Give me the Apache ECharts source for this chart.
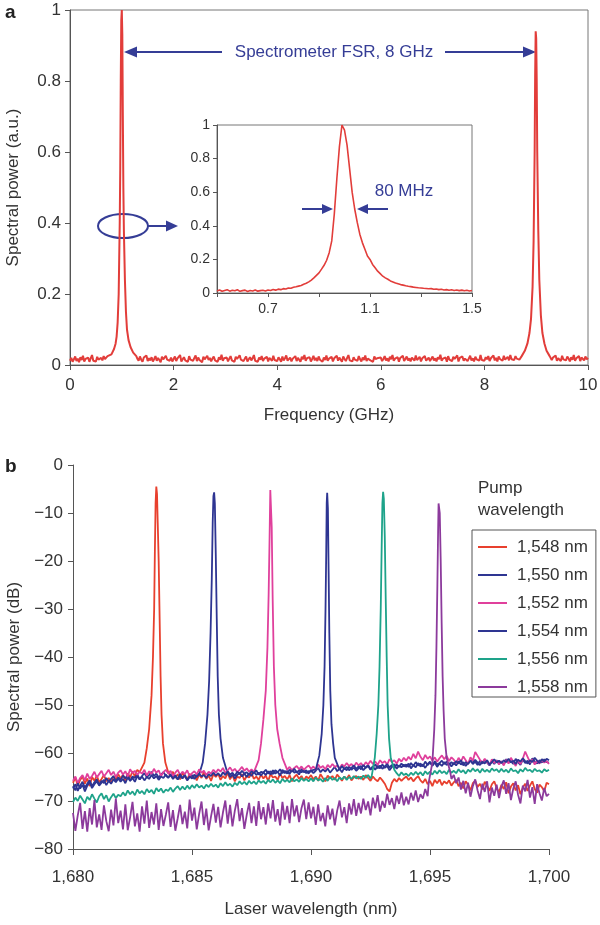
<!DOCTYPE html>
<html><head><meta charset="utf-8">
<script src="https://cdn.jsdelivr.net/npm/echarts@6/dist/echarts.min.js"></script>
<style>html,body{margin:0;padding:0;background:#fff}#c{width:600px;height:925px}</style>
</head><body><div id="c"></div>
<script>
// ---------- Panel a: main spectrum (GHz, 0..10, step 0.025) ----------
const freqPerGHz = 40;
const mainBaseline = [
0.012,0.020,0.009,0.016,0.024,0.011,0.018,0.008,0.022,0.014,0.026,0.010,0.017,0.013,0.021,0.009,0.019,0.028,0.012,0.016,0.010,0.023,0.015,0.011,0.020,0.013,0.025,0.017,0.020,0.025,0.03,0.03,0.03,0.03,0.03,0.03,0.03,0.03,0.03,0.03,
0.03,0.03,0.03,0.03,0.03,0.03,0.03,0.03,0.03,0.03,0.03,0.03,0.018,0.012,0.024,0.015,0.009,0.021,0.016,0.027,0.011,0.019,0.013,0.022,0.010,0.017,0.025,0.012,0.020,0.014,0.008,0.023,0.016,0.011,0.026,0.015,0.019,0.012,0.021,0.010,
0.017,0.024,0.011,0.019,0.014,0.028,0.010,0.016,0.022,0.013,0.018,0.009,0.025,0.015,0.020,0.012,0.017,0.027,0.011,0.021,0.014,0.019,0.008,0.023,0.016,0.012,0.026,0.014,0.020,0.010,0.018,0.024,0.013,0.017,0.009,0.022,0.015,0.029,0.012,0.019,
0.014,0.021,0.010,0.018,0.025,0.013,0.016,0.009,0.023,0.017,0.012,0.027,0.015,0.020,0.011,0.018,0.024,0.010,0.016,0.022,0.013,0.019,0.028,0.012,0.017,0.009,0.021,0.015,0.025,0.011,0.018,0.014,0.023,0.010,0.020,0.016,0.012,0.026,0.014,0.019,
0.011,0.022,0.016,0.009,0.024,0.013,0.019,0.027,0.012,0.017,0.021,0.010,0.018,0.014,0.025,0.011,0.020,0.015,0.009,0.023,0.016,0.028,0.012,0.019,0.014,0.022,0.010,0.017,0.026,0.013,0.020,0.011,0.024,0.015,0.018,0.009,0.021,0.014,0.027,0.012,
0.018,0.013,0.023,0.010,0.019,0.016,0.026,0.012,0.021,0.015,0.009,0.024,0.017,0.011,0.020,0.028,0.013,0.018,0.010,0.022,0.015,0.019,0.012,0.025,0.016,0.010,0.021,0.014,0.027,0.011,0.018,0.023,0.013,0.016,0.009,0.024,0.017,0.012,0.020,0.015,
0.021,0.011,0.017,0.025,0.013,0.019,0.010,0.023,0.016,0.028,0.012,0.018,0.014,0.022,0.009,0.020,0.015,0.026,0.011,0.017,0.024,0.013,0.019,0.010,0.021,0.016,0.012,0.027,0.014,0.018,0.023,0.010,0.019,0.015,0.025,0.012,0.017,0.021,0.011,0.016,
0.024,0.013,0.019,0.010,0.022,0.016,0.029,0.012,0.018,0.014,0.021,0.009,0.025,0.015,0.019,0.011,0.023,0.017,0.013,0.027,0.010,0.020,0.015,0.024,0.012,0.018,0.022,0.011,0.016,0.026,0.013,0.019,0.010,0.023,0.016,0.021,0.012,0.028,0.014,0.018,
0.012,0.022,0.016,0.025,0.011,0.019,0.014,0.027,0.013,0.020,0.010,0.024,0.017,0.021,0.012,0.026,0.015,0.019,0.023,0.013,0.028,0.016,0.020,0.014,0.025,0.018,0.022,0.015,0.020,0.02,0.02,0.02,0.02,0.02,0.02,0.02,0.02,0.02,0.02,0.02,
0.02,0.02,0.02,0.02,0.02,0.02,0.02,0.02,0.02,0.02,0.02,0.024,0.014,0.021,0.017,0.027,0.012,0.019,0.023,0.011,0.026,0.016,0.020,0.013,0.024,0.018,0.010,0.022,0.015,0.028,0.012,0.019,0.014,0.025,0.011,0.021,0.017,0.013,0.024,0.016,
0.020];
const mainPeak1 = [[0.75,0.02],[0.8,0.03],[0.85,0.045],[0.88,0.06],[0.9,0.08],[0.92,0.12],[0.94,0.2],[0.96,0.4],[0.97,0.55],[0.98,0.8],[0.99,0.97],[1.0,1.0],[1.01,0.93],[1.02,0.7],[1.03,0.5],[1.04,0.38],[1.06,0.24],[1.08,0.15],[1.1,0.1],[1.13,0.07],[1.17,0.05],[1.22,0.035],[1.28,0.025]];
const mainPeak2 = [[8.72,0.025],[8.78,0.04],[8.83,0.06],[8.87,0.09],[8.9,0.13],[8.93,0.22],[8.95,0.35],[8.97,0.6],[8.98,0.82],[8.99,0.94],[9.0,0.92],[9.01,0.8],[9.02,0.6],[9.04,0.38],[9.06,0.24],[9.09,0.14],[9.12,0.09],[9.16,0.06],[9.2,0.04],[9.26,0.025]];

// ---------- Panel a inset (GHz 0.50..1.50 step 0.01) ----------
const insetValues = [
0.012,0.018,0.010,0.015,0.020,0.011,0.016,0.013,0.019,0.010,
0.014,0.017,0.009,0.015,0.012,0.018,0.011,0.014,0.016,0.012,
0.018,0.015,0.021,0.017,0.023,0.020,0.026,0.024,0.030,0.028,
0.034,0.037,0.041,0.045,0.052,0.058,0.066,0.077,0.090,0.105,
0.120,0.142,0.165,0.195,0.240,0.310,0.470,0.680,0.870,1.000,
0.970,0.880,0.740,0.600,0.500,0.420,0.350,0.300,0.260,0.220,
0.200,0.170,0.150,0.130,0.115,0.100,0.090,0.082,0.072,0.066,
0.060,0.055,0.050,0.047,0.043,0.040,0.038,0.035,0.033,0.031,
0.030,0.028,0.027,0.025,0.026,0.022,0.024,0.020,0.022,0.018,
0.020,0.016,0.019,0.015,0.018,0.014,0.017,0.013,0.016,0.012,
0.015];
const insetTickLabels = ['0.7','1.1','1.5'];

// ---------- Panel b (nm 1680.0..1700.0 step 0.1) ----------
const wlStartTenths = 16800;
const pumpNames = ['1,548 nm','1,550 nm','1,552 nm','1,554 nm','1,556 nm','1,558 nm'];
const pumpColors = ['#e8402e','#2e3592','#e0409c','#2e3592','#1ea38a','#8c3a9c'];
const base1548 = [
-66.2,-65.1,-66.8,-65.6,-64.9,-66.4,-65.3,-66.9,-65.0,-65.8,-64.7,-66.1,-65.4,-64.6,-65.9,-65.2,-66.3,-64.8,-65.5,-64.4,
-65.3,-64.5,-65.8,-64.2,-65.1,-63.8,-64.9,-63.5,-64.6,-63.3,-64.2,-63.9,-63,-62,-64,-64,-64,-64,-64,-64,
-64.2,-64.8,-63.9,-65.2,-64.4,-65.5,-64.1,-64.9,-65.6,-64.3,-65.1,-64.6,-65.7,-64.5,-65.2,-64.0,-65.4,-64.7,-65.8,-64.4,
-65.0,-64.3,-65.6,-64.8,-65.3,-64.1,-65.5,-64.6,-65.9,-64.9,-65.2,-64.4,-65.7,-64.8,-65.1,-64.2,-65.4,-64.9,-65.6,-64.5,
-65.3,-64.7,-65.8,-64.4,-65.1,-64.9,-65.6,-64.3,-65.2,-64.8,-65.5,-64.6,-65.9,-65.0,-64.5,-65.4,-64.8,-65.7,-64.9,-65.3,
-64.6,-65.5,-64.9,-65.8,-64.4,-65.2,-65.9,-64.7,-65.3,-64.8,-65.6,-64.5,-65.1,-65.8,-64.9,-65.4,-64.6,-65.7,-65.1,-64.8,
-65.4,-64.9,-65.6,-64.6,-65.2,-65.8,-64.9,-65.5,-65.9,-65.1,-65.7,-66.4,-67.5,-68.0,-66.2,-65.4,-66.0,-65.2,-65.8,-65.3,
-64.9,-65.6,-65.1,-65.9,-65.3,-64.8,-65.7,-66.2,-65.4,-66.5,-65.8,-66.9,-65.6,-66.3,-65.5,-66.7,-65.9,-66.4,-65.7,-66.8,
-66.1,-65.6,-66.9,-66.2,-67.4,-65.9,-66.6,-67.8,-66.3,-65.8,-67.1,-66.4,-67.6,-66.0,-66.8,-67.9,-66.5,-65.9,-67.3,-68.2,
-66.6,-67.5,-66.1,-68.4,-67.0,-66.3,-67.8,-66.7,-68.6,-67.2,-66.4,-67.9,-66.8,-65.9,-67.5,-68.3,-66.6,-67.1,-68.0,-66.2,
-66.5];
const base1550 = [
-67.4,-66.5,-67.9,-66.8,-66.0,-67.2,-66.4,-65.7,-66.9,-66.1,-65.5,-66.6,-65.8,-66.3,-65.2,-66.0,-65.4,-64.8,-65.9,-65.1,
-65.6,-64.7,-65.3,-64.5,-65.8,-64.9,-65.2,-64.4,-65.5,-64.8,-64.2,-65.0,-64.6,-63.9,-64.8,-64.3,-65.1,-64.5,-64.0,-64.7,
-65.2,-64.4,-65.0,-64.6,-65.5,-64.8,-65.3,-64.5,-65.7,-65.0,-64.6,-65.4,-64.8,-65.6,-64.9,-65.3,-64.7,-65.5,-64.9,-65.2,
-65.0,-64.6,-65.1,-64.7,-64.9,-64.4,-65.2,-64.5,-65.3,-64.6,-64.1,-64.9,-64.3,-65.0,-64.2,-64.8,-63.9,-64.6,-64.1,-64.7,
-64.0,-64.6,-63.8,-64.5,-63.6,-64.3,-63.9,-64.7,-63.5,-64.2,-63.7,-64.4,-63.4,-64.1,-63.8,-64.5,-63.3,-64.0,-63.6,-64.3,
-63.5,-64.2,-63.7,-63.1,-64.0,-63.4,-63.9,-63.2,-64.1,-63.5,-62.9,-63.8,-63.3,-64.0,-63.1,-63.6,-62.8,-63.5,-63.0,-63.7,
-63.2,-62.7,-63.6,-63.0,-62.5,-63.4,-62.8,-63.5,-62.6,-63.2,-62.4,-63.1,-62.7,-63.6,-62.9,-62.3,-63.3,-62.6,-63.0,-62.4,
-62.9,-62.2,-63.2,-62.5,-63.0,-62.1,-62.8,-62.4,-63.1,-62.3,-61.8,-62.6,-62.0,-62.9,-62.2,-62.7,-61.9,-62.5,-62.1,-62.8,
-62.0,-62.6,-61.7,-62.4,-61.9,-62.7,-62.1,-61.5,-62.3,-61.8,-62.5,-61.6,-62.2,-61.4,-62.0,-62.6,-61.7,-62.3,-61.5,-62.1,
-61.8,-62.4,-61.3,-62.0,-61.6,-62.3,-61.2,-61.9,-62.5,-61.4,-62.1,-61.6,-62.4,-61.1,-61.8,-62.2,-61.5,-62.0,-61.3,-61.9,
-62.0];
const base1552 = [
-65.8,-64.9,-66.3,-65.2,-64.6,-65.7,-64.3,-65.4,-64.8,-63.9,-65.1,-64.4,-63.7,-64.9,-64.2,-63.5,-64.6,-63.9,-65.0,-64.1,
-63.6,-64.5,-63.8,-64.9,-63.4,-64.2,-63.7,-64.6,-63.9,-64.3,-63.5,-64.7,-63.8,-64.4,-63.3,-64.1,-63.6,-64.8,-64.0,-63.5,
-64.3,-63.7,-64.8,-64.1,-63.5,-64.6,-63.9,-64.4,-63.6,-64.9,-64.2,-63.8,-64.5,-63.4,-64.1,-63.7,-64.6,-63.9,-64.3,-63.5,
-64.1,-63.4,-63.9,-63.1,-64.2,-63.6,-63.0,-63.8,-63.3,-64.0,-63.5,-62.9,-63.7,-63.2,-63.9,-63.4,-64,-64,-64,-64,
-63,-63,-63,-63,-63,-63,-63,-63,-63,-63,-63.5,-62.9,-63.6,-63.1,-62.7,-63.4,-62.8,-63.5,-63.0,-62.6,
-63.3,-62.8,-63.5,-62.4,-63.1,-62.7,-63.4,-62.5,-63.0,-62.3,-62.9,-62.6,-63.2,-62.4,-62.8,-62.1,-62.7,-62.3,-62.9,-62.0,
-62.6,-62.1,-62.8,-61.9,-62.4,-61.6,-62.3,-61.8,-62.5,-61.5,-62.1,-61.7,-62.4,-61.3,-61.9,-61.5,-62.2,-61.2,-61.8,-61.0,
-61.6,-60.8,-61.4,-60.2,-61.1,-59.7,-60.8,-61.5,-60.4,-61.2,-60.7,-61.6,-60.9,-61.8,-61.1,-60.5,-61.3,-60.6,-61.7,-60.9,
-61.4,-62.1,-61.0,-61.8,-60.7,-61.5,-62.3,-60.9,-61.6,-59.8,-60.6,-61.4,-62.0,-61.2,-61.9,-62.5,-61.3,-62.1,-61.6,-62.4,
-61.7,-62.6,-61.4,-62.2,-61.0,-61.8,-62.7,-61.5,-62.3,-61.2,-59.7,-60.8,-61.9,-61.3,-62.4,-61.6,-62.2,-61.4,-62.0,-61.7,
-62.3];
const base1554 = [
-66.9,-67.8,-66.3,-67.4,-66.6,-68.0,-66.8,-66.1,-67.3,-66.5,-65.9,-66.8,-66.2,-65.6,-66.7,-65.8,-66.4,-65.5,-66.1,-65.3,
-66.0,-65.4,-66.3,-65.1,-65.8,-65.2,-66.0,-64.8,-65.5,-64.9,-65.7,-65.0,-65.4,-64.6,-65.3,-64.8,-65.6,-64.9,-65.2,-64.5,
-65.1,-64.6,-65.4,-64.8,-65.5,-64.4,-65.2,-64.7,-65.6,-64.9,-65.3,-64.5,-65.0,-64.3,-64.9,-64.6,-65.2,-64.4,-64.8,-64.1,
-64.7,-64.2,-64.9,-64.0,-64.6,-63.8,-64.5,-64.1,-64.8,-63.9,-64.4,-63.7,-64.3,-64.0,-64.6,-63.8,-64.2,-63.6,-64.5,-63.9,
-64.1,-63.5,-64.3,-63.8,-64.4,-63.6,-64.0,-63.4,-64.2,-63.7,-64.3,-63.5,-63.9,-63.3,-64.1,-63.6,-64.0,-63.7,-64.2,-63.8,
-63.9,-63.5,-63.7,-63.4,-63.6,-63,-63,-63,-63,-63,-63,-63,-63.2,-62.7,-63.4,-62.9,-63.6,-63.1,-62.6,-63.3,
-62.8,-63.4,-62.5,-63.1,-62.7,-63.5,-62.9,-62.4,-63.2,-62.6,-63.3,-62.8,-62.3,-63.0,-62.5,-63.1,-62.4,-62.9,-62.2,-62.8,
-62.4,-62.9,-62.1,-62.7,-61.9,-62.6,-62.2,-62.8,-61.8,-62.5,-62.0,-62.7,-61.7,-62.4,-62.1,-61.6,-62.3,-61.8,-62.5,-61.9,
-62.4,-61.7,-62.2,-61.5,-62.6,-61.9,-62.3,-61.6,-62.1,-61.4,-62.0,-62.5,-61.8,-62.2,-61.5,-62.4,-61.9,-61.3,-62.0,-61.6,
-62.1,-61.5,-61.9,-61.2,-62.0,-61.6,-62.3,-61.4,-61.8,-61.1,-61.7,-62.2,-61.5,-61.9,-61.0,-61.6,-62.1,-61.3,-61.8,-61.2,
-61.5];
const base1556 = [
-70.2,-69.3,-70.0,-68.9,-69.7,-70.5,-69.1,-69.8,-68.6,-69.5,-70.3,-69.0,-68.4,-69.6,-68.8,-70.1,-69.2,-68.5,-69.4,-68.7,
-69.0,-68.2,-68.9,-67.8,-68.6,-68.0,-68.8,-67.6,-68.4,-67.9,-68.6,-67.5,-68.2,-67.7,-68.5,-67.3,-68.0,-67.4,-68.3,-67.6,
-67.9,-67.2,-68.1,-67.4,-66.9,-67.7,-67.0,-67.6,-66.8,-67.5,-66.7,-67.3,-66.5,-67.2,-66.8,-67.4,-66.6,-67.1,-66.4,-67.0,
-66.6,-67.2,-66.3,-66.9,-66.1,-66.8,-66.4,-67.0,-66.2,-66.7,-65.9,-66.5,-66.0,-66.6,-65.8,-66.4,-65.9,-66.5,-65.7,-66.2,
-65.8,-66.4,-65.6,-66.1,-65.5,-66.2,-65.7,-66.3,-65.4,-66.0,-65.6,-66.1,-65.3,-65.9,-65.5,-66.0,-65.2,-65.8,-65.4,-65.9,
-65.3,-65.9,-65.1,-65.7,-65.4,-66.0,-65.2,-65.8,-65.0,-65.6,-65.2,-65.9,-65.1,-65.5,-64.9,-65.6,-65.0,-65.4,-64.8,-65.3,
-64.9,-65.4,-64.7,-65.2,-64.6,-65.3,-64.8,-65,-65,-65,-65,-65,-65,-65,-65,-65,-64.2,-64.8,-64.0,-64.6,
-64.3,-64.8,-64.1,-64.6,-63.9,-64.5,-64.0,-64.7,-63.8,-64.4,-63.9,-64.5,-63.7,-64.3,-63.6,-64.2,-63.8,-64.4,-63.5,-64.1,
-63.7,-64.2,-63.4,-64.0,-63.6,-64.3,-63.5,-63.9,-63.2,-63.8,-63.4,-64.1,-63.3,-63.9,-63.5,-64.0,-63.2,-63.7,-63.4,-64.0,
-63.3,-63.9,-63.5,-64.1,-63.2,-63.8,-63.6,-64.2,-63.4,-63.9,-63.1,-63.7,-63.5,-64.0,-63.3,-63.8,-63.6,-64.1,-63.4,-63.8,
-63.5];
const base1558 = [
-72.5,-76.2,-73.0,-70.4,-75.8,-72.1,-76.4,-71.5,-74.9,-69.8,-75.5,-72.8,-76.0,-70.9,-74.2,-76.3,-71.8,-75.1,-69.5,-74.6,
-72.0,-75.9,-70.7,-76.1,-73.4,-70.2,-75.3,-72.6,-76.4,-71.1,-74.7,-69.9,-75.6,-72.3,-74.9,-70.5,-76.0,-71.7,-75.2,-72.9,
-70.3,-75.4,-71.9,-76.2,-73.6,-70.8,-74.8,-72.2,-75.7,-69.7,-74.1,-71.4,-75.9,-72.7,-70.1,-75.0,-71.6,-76.1,-73.2,-70.6,
-74.5,-71.2,-75.5,-72.4,-69.9,-74.7,-70.8,-75.3,-72.0,-69.6,-74.2,-71.5,-75.8,-72.9,-70.4,-74.6,-71.1,-75.2,-70.0,-73.8,
-71.3,-74.9,-70.5,-73.6,-69.8,-74.3,-71.7,-75.1,-70.2,-73.9,-71.0,-74.6,-69.6,-73.2,-70.9,-74.4,-71.5,-69.7,-73.8,-70.3,
-73.6,-71.2,-75.0,-70.7,-74.2,-72.5,-75.3,-70.9,-73.8,-71.6,-75.1,-72.0,-69.9,-73.4,-71.3,-74.6,-70.5,-72.8,-69.6,-73.1,
-70.4,-72.6,-69.5,-71.9,-70.1,-73.0,-69.3,-71.5,-68.8,-72.2,-70.0,-71.4,-68.5,-70.8,-69.4,-71.7,-68.9,-70.6,-68.2,-70.9,
-69.1,-70.7,-68.3,-69.9,-67.8,-70.2,-68.6,-69.5,-67.5,-69.0,-66,-66,-66,-66,-66,-66,-66,-66,-66,-65.4,
-64.6,-66.3,-65.1,-67.6,-65.8,-68.4,-66.2,-69.1,-66.9,-65.5,-67.8,-69.6,-66.4,-68.1,-65.9,-70.3,-67.2,-68.9,-66.6,-69.4,
-67.0,-65.7,-68.5,-66.3,-69.8,-67.4,-65.9,-68.7,-70.5,-66.8,-68.0,-65.6,-69.3,-67.1,-70.6,-66.5,-68.4,-69.9,-67.3,-69.0,
-68.5];
const peak1548 = [[1682.8,-64],[1683.0,-62],[1683.1,-59],[1683.2,-55],[1683.3,-48],[1683.36,-40],[1683.41,-30],[1683.44,-18],[1683.47,-8],[1683.5,-4.5],[1683.53,-6],[1683.56,-12],[1683.6,-20],[1683.64,-32],[1683.68,-44],[1683.72,-52],[1683.78,-58],[1683.88,-62],[1684.0,-64]];
const peak1550 = [[1685.3,-64.5],[1685.45,-62],[1685.55,-58],[1685.65,-52],[1685.72,-45],[1685.78,-35],[1685.83,-24],[1685.87,-12],[1685.9,-6.5],[1685.93,-5.7],[1685.96,-8],[1686.0,-19],[1686.04,-32],[1686.08,-44],[1686.13,-52],[1686.2,-57],[1686.3,-61],[1686.45,-63.5],[1686.6,-65]];
const peak1552 = [[1687.6,-64],[1687.8,-61.5],[1687.9,-58],[1688.0,-53],[1688.1,-47],[1688.17,-38],[1688.22,-27],[1688.26,-15],[1688.29,-5.2],[1688.32,-5],[1688.35,-13],[1688.39,-28],[1688.44,-42],[1688.5,-50],[1688.58,-55],[1688.68,-58],[1688.8,-61],[1689.0,-63.5]];
const peak1554 = [[1690.2,-63.5],[1690.35,-60.5],[1690.45,-56],[1690.52,-50],[1690.57,-42],[1690.61,-30],[1690.64,-18],[1690.66,-8],[1690.68,-5.8],[1690.71,-9],[1690.74,-22],[1690.77,-35],[1690.81,-47],[1690.86,-54],[1690.93,-58],[1691.0,-61],[1691.2,-63.5]];
const peak1556 = [[1692.55,-64.8],[1692.68,-61],[1692.76,-56],[1692.83,-50],[1692.88,-42],[1692.93,-30],[1692.97,-17],[1693.0,-8],[1693.03,-5.6],[1693.06,-7],[1693.1,-15],[1693.14,-28],[1693.18,-40],[1693.22,-50],[1693.28,-57],[1693.35,-61],[1693.5,-63.5]];
const peak1558 = [[1694.95,-66],[1695.1,-62],[1695.18,-55],[1695.23,-48],[1695.27,-38],[1695.31,-25],[1695.34,-14],[1695.36,-8],[1695.38,-7.6],[1695.41,-10],[1695.45,-20],[1695.49,-33],[1695.53,-44],[1695.57,-51],[1695.62,-57],[1695.7,-61],[1695.85,-64]];

// ---------- build ----------
function withPeaks(pairs, peaks) {
  let out = pairs.slice();
  peaks.forEach(pk => {
    const lo = pk[0][0], hi = pk[pk.length - 1][0];
    out = out.filter(p => p[0] < lo || p[0] > hi).concat(pk);
  });
  return out.sort((a, b) => a[0] - b[0]);
}
const mainPairs = mainBaseline.map((v, i) => [i / freqPerGHz, v]);
const mainData = withPeaks(mainPairs, [mainPeak1, mainPeak2]);
const insetData = insetValues.map((v, i) => [(50 + i) / 100, v]);
const bBases = [base1548, base1550, base1552, base1554, base1556, base1558];
const bPeaks = [peak1548, peak1550, peak1552, peak1554, peak1556, peak1558];
const bData = bBases.map((arr, k) => withPeaks(arr.map((v, i) => [(wlStartTenths + i) / 10, v]), [bPeaks[k]]));

const FF = "'Liberation Sans', Arial, sans-serif";
const TXT = '#333';
const AX = '#555';
const BLUE = '#353d96';
const axisCommon = (fs) => ({
  axisLine: { show: true, onZero: false, lineStyle: { color: AX, width: 1 } },
  axisTick: { show: true, length: 5, lineStyle: { color: AX } },
  splitLine: { show: false },
  axisLabel: { fontSize: fs, color: TXT, fontFamily: FF },
  nameTextStyle: { fontSize: 17, color: TXT, fontFamily: FF }
});
const minusFmt = v => (v < 0 ? '\u2212' + Math.abs(v) : String(v));

const chart = echarts.init(document.getElementById('c'), null, { renderer: 'canvas' });
const option = {
  animation: false,
  backgroundColor: '#fff',
  grid: [
    { left: 70, top: 10, width: 518, height: 355, show: true, borderColor: '#777', borderWidth: 1, outerBoundsMode: 'none', containLabel: false },
    { left: 217, top: 125, width: 255, height: 168, show: true, borderColor: '#777', borderWidth: 1, outerBoundsMode: 'none', containLabel: false },
    { left: 73, top: 465, width: 476, height: 384, outerBoundsMode: 'none', containLabel: false }
  ],
  xAxis: [
    Object.assign(axisCommon(17), { gridIndex: 0, type: 'value', min: 0, max: 10, interval: 2,
      name: 'Frequency (GHz)', nameLocation: 'middle', nameGap: 42 }),
    Object.assign(axisCommon(14), { gridIndex: 1, type: 'value', min: 0.5, max: 1.5, interval: 0.2 }),
    Object.assign(axisCommon(17), { gridIndex: 2, type: 'value', min: 1680, max: 1700, interval: 5,
      name: 'Laser wavelength (nm)', nameLocation: 'middle', nameGap: 52 })
  ],
  yAxis: [
    Object.assign(axisCommon(17), { gridIndex: 0, type: 'value', min: 0, max: 1, interval: 0.2,
      name: 'Spectral power (a.u.)', nameLocation: 'middle', nameGap: 48, nameRotate: 90 }),
    Object.assign(axisCommon(14), { gridIndex: 1, type: 'value', min: 0, max: 1, interval: 0.2 }),
    Object.assign(axisCommon(17), { gridIndex: 2, type: 'value', min: -80, max: 0, interval: 10,
      name: 'Spectral power (dB)', nameLocation: 'middle', nameGap: 50, nameRotate: 90 })
  ],
  legend: {
    data: pumpNames, orient: 'vertical', left: 472, top: 530,
    padding: [7, 8, 0, 6], itemGap: 8, itemWidth: 29, itemHeight: 2, icon: 'rect',
    borderColor: '#555', borderWidth: 1, selectedMode: false,
    textStyle: { fontSize: 17, color: TXT, fontFamily: FF, lineHeight: 20, padding: [0, 0, 0, 5] }
  },
  series: [
    { type: 'line', xAxisIndex: 0, yAxisIndex: 0, data: mainData, showSymbol: false, silent: true,
      lineStyle: { color: '#e23d3a', width: 2 } },
    { type: 'line', xAxisIndex: 1, yAxisIndex: 1, data: insetData, showSymbol: false, silent: true,
      lineStyle: { color: '#e23d3a', width: 1.6 } }
  ].concat(bData.map((d, k) => ({
    name: pumpNames[k], type: 'line', xAxisIndex: 2, yAxisIndex: 2, data: d, showSymbol: false, silent: true,
    color: pumpColors[k], lineStyle: { color: pumpColors[k], width: 1.8 }
  }))),
  graphic: [
    { type: 'text', x: 5, y: 13, style: { text: 'a', font: "bold 19px " + FF, fill: '#222', verticalAlign: 'middle' } },
    { type: 'text', x: 5, y: 467, style: { text: 'b', font: "bold 19px " + FF, fill: '#222', verticalAlign: 'middle' } },
    { type: 'text', x: 478, y: 488, style: { text: 'Pump', font: "17px " + FF, fill: TXT, verticalAlign: 'middle' } },
    { type: 'text', x: 478, y: 510, style: { text: 'wavelength', font: "17px " + FF, fill: TXT, verticalAlign: 'middle' } },
    { type: 'text', x: 334, y: 52, style: { text: 'Spectrometer FSR, 8 GHz', font: "17px " + FF, fill: BLUE, align: 'center', verticalAlign: 'middle' } },
    { type: 'line', shape: { x1: 222, y1: 52, x2: 132, y2: 52 }, style: { stroke: BLUE, lineWidth: 2 } },
    { type: 'polygon', shape: { points: [[124, 52], [137, 46.5], [137, 57.5]] }, style: { fill: BLUE } },
    { type: 'line', shape: { x1: 445, y1: 52, x2: 527, y2: 52 }, style: { stroke: BLUE, lineWidth: 2 } },
    { type: 'polygon', shape: { points: [[536, 52], [523, 46.5], [523, 57.5]] }, style: { fill: BLUE } },
    { type: 'ellipse', shape: { cx: 123, cy: 226, rx: 25, ry: 12 }, style: { stroke: BLUE, lineWidth: 2, fill: 'none' } },
    { type: 'line', shape: { x1: 148, y1: 226, x2: 168, y2: 226 }, style: { stroke: BLUE, lineWidth: 2 } },
    { type: 'polygon', shape: { points: [[178, 226], [166, 220.5], [166, 231.5]] }, style: { fill: BLUE } },
    { type: 'text', x: 404, y: 191, style: { text: '80 MHz', font: "17px " + FF, fill: BLUE, align: 'center', verticalAlign: 'middle' } },
    { type: 'line', shape: { x1: 302, y1: 209, x2: 325, y2: 209 }, style: { stroke: BLUE, lineWidth: 2 } },
    { type: 'polygon', shape: { points: [[333, 209], [322, 204], [322, 214]] }, style: { fill: BLUE } },
    { type: 'line', shape: { x1: 388, y1: 209, x2: 365, y2: 209 }, style: { stroke: BLUE, lineWidth: 2 } },
    { type: 'polygon', shape: { points: [[357, 209], [368, 204], [368, 214]] }, style: { fill: BLUE } }
  ]
};
option.xAxis[0].axisLabel.margin = 12;
option.yAxis[0].axisLabel.margin = 9;
option.xAxis[1].axisLabel.margin = 9;
option.xAxis[1].axisTick.length = 4;
option.yAxis[1].axisTick.length = 4;
option.yAxis[1].axisLabel.margin = 7;
option.xAxis[1].axisLabel.formatter = v => {
  const s = (Math.round(v * 10) / 10).toFixed(1);
  return insetTickLabels.indexOf(s) >= 0 ? s : '';
};
option.xAxis[2].axisLabel.margin = 20;
option.xAxis[2].axisTick.length = 6;
option.xAxis[2].axisLabel.formatter = v => String(v).replace(/(\d)(\d{3})$/, '$1,$2');
option.yAxis[2].axisLabel.margin = 10;
option.yAxis[2].axisLabel.formatter = minusFmt;
chart.setOption(option);
</script>
</body></html>
